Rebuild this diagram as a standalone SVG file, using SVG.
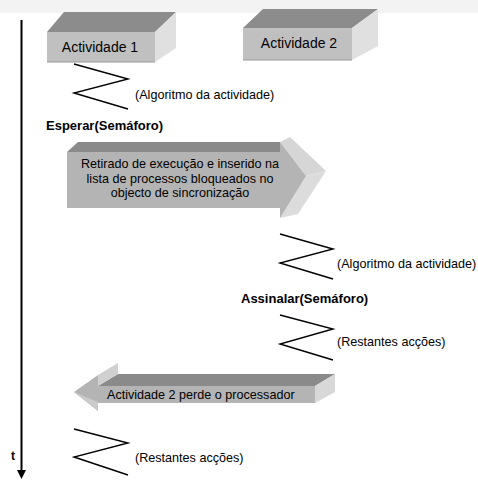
<svg xmlns="http://www.w3.org/2000/svg" width="478" height="481" viewBox="0 0 478 481">
<style>
.lbl{font-family:"Liberation Sans",Arial,sans-serif;fill:#000}
.box{font-size:14px}
.note{font-size:12.6px}
.b{font-size:13px;font-weight:bold}
.front{fill:#c0c0c0}
.top{fill:#8c8c8c}
.side{fill:#e0e0e0}
.afront{fill:#b4b4b4}
.atop{fill:#8a8a8a}
.alight{fill:#d6d6d6}
.zz{fill:none;stroke:#000;stroke-width:1.4}
</style>
<defs>
<marker id="ah" markerWidth="10" markerHeight="10" refX="1" refY="5" orient="auto" markerUnits="userSpaceOnUse" viewBox="0 0 10 10">
<path d="M0,0.5 L9,5 L0,9.5 Z" fill="#000"/>
</marker>
</defs>
<rect x="0" y="0" width="478" height="13" fill="#f3f3f3"/>

<g id="actividade1">
<polygon class="top" points="47,32 64,12 176,12 155,32"/>
<polygon class="side" points="155,32 176,12 176,48 155,62"/>
<rect class="front" x="47" y="32" width="108" height="30"/>
<line x1="47" y1="62" x2="155" y2="62" stroke="#9a9a9a" stroke-width="1"/>
<text class="lbl box" x="100" y="52" text-anchor="middle">Actividade 1</text>
</g>

<g id="actividade2">
<polygon class="top" points="243,28 263,9 378,9 352,28"/>
<polygon class="side" points="352,28 378,9 378,46 352,60"/>
<rect class="front" x="243" y="28" width="109" height="32"/>
<line x1="243" y1="60" x2="352" y2="60" stroke="#9a9a9a" stroke-width="1"/>
<text class="lbl box" x="299" y="48" text-anchor="middle">Actividade 2</text>
</g>

<g id="connectors">
<line x1="21.5" y1="20" x2="21.5" y2="471" stroke="#000" stroke-width="2" marker-end="url(#ah)"/>
<polyline class="zz" points="74,64 128,79 74,93 128,109"/>
<polyline class="zz" points="280,234 333,249 280,263 333,279"/>
<polyline class="zz" points="280,315 333,329 280,344 333,360"/>
<polyline class="zz" points="74,429 128,443 74,457 128,475"/>
</g>

<g id="alg1">
<text class="lbl note" x="135" y="99">(Algoritmo da actividade)</text>
</g>
<g id="esperar">
<text class="lbl b" x="46" y="130">Esperar(Semáforo)</text>
</g>

<g id="seta-retirado">
<polygon class="atop" points="67,152 78,142 280,142 280,152"/>
<polygon class="alight" points="280,142 290,137 326,171 306,176"/>
<polygon fill="#dcdcdc" points="306,176 326,171 298,214 280,218"/>
<polygon class="afront" points="67,152 280,152 280,142 306,176 280,218 280,208 67,208"/>
<text class="lbl note" text-anchor="middle" x="180" y="168">Retirado de execução e inserido na</text>
<text class="lbl note" text-anchor="middle" x="180" y="183">lista de processos bloqueados no</text>
<text class="lbl note" text-anchor="middle" x="180" y="197">objecto de sincronização</text>
</g>

<g id="alg2">
<text class="lbl note" x="337" y="268">(Algoritmo da actividade)</text>
</g>
<g id="assinalar">
<text class="lbl b" x="241" y="303">Assinalar(Semáforo)</text>
</g>
<g id="restantes1">
<text class="lbl note" x="337" y="346">(Restantes acções)</text>
</g>

<g id="seta-perde">
<polygon class="atop" points="98,386 118,374 335,374 315,386"/>
<polygon fill="#d0d0d0" points="98,375 118,363 118,374 98,386"/>
<polygon fill="#d8d8d8" points="315,386 335,374 335,392 315,403"/>
<polygon class="afront" points="74,392 98,375 98,386 315,386 315,403 98,403 98,411"/>
<polygon fill="#cacaca" points="74,392 98,402 98,411"/>
<text class="lbl note" x="107" y="399">Actividade 2 perde o processador</text>
</g>

<g id="restantes2">
<text class="lbl note" x="135" y="462">(Restantes acções)</text>
</g>
<g id="t-label">
<text class="lbl" x="11" y="460" font-size="12" font-weight="bold">t</text>
</g>
</svg>
